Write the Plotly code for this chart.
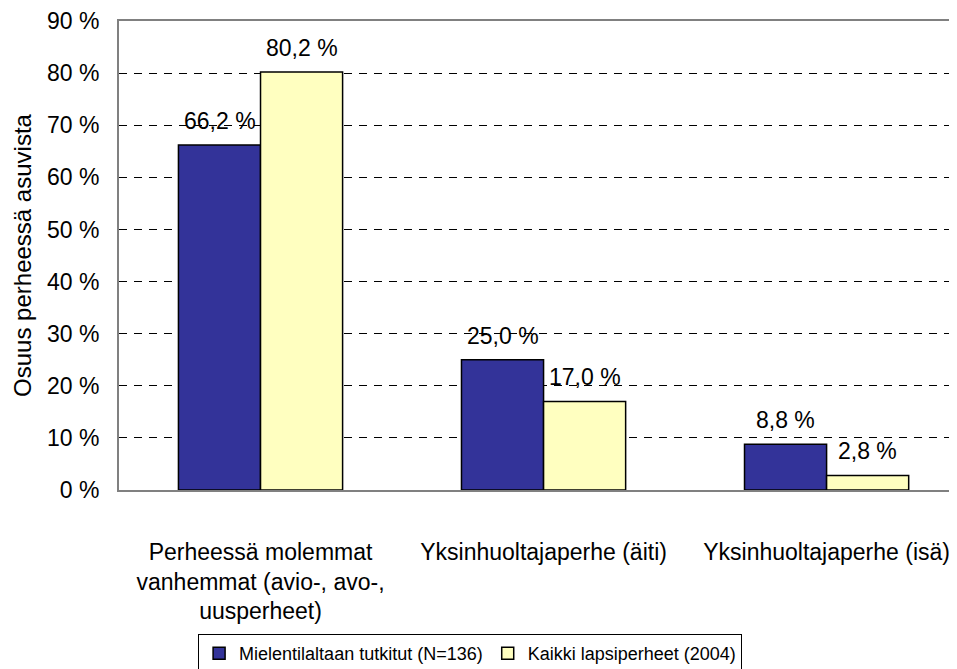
import plotly.graph_objects as go

categories = ["Perheessä molemmat<br>vanhemmat (avio-, avo-,<br>uusperheet)",
              "Yksinhuoltajaperhe (äiti)",
              "Yksinhuoltajaperhe (isä)"]
series_names = ["Mielentilaltaan tutkitut (N=136)", "Kaikki lapsiperheet (2004)"]
tutkitut = [66.2, 25.0, 8.8]
kaikki = [80.2, 17.0, 2.8]
y_ticks = [0, 10, 20, 30, 40, 50, 60, 70, 80, 90]
y_ticklabels = [f"{v} %" for v in y_ticks]

colors = ["#333399", "#FFFFC0"]
FONT = "Liberation Sans, Arial, sans-serif"
FS = 23

fig = go.Figure()
for name, vals, col in zip(series_names, [tutkitut, kaikki], colors):
    fig.add_trace(go.Bar(x=categories, y=vals, name=name,
                         marker=dict(color=col, line=dict(color="black", width=1.5))))

def fmt(v):
    return f"{v:.1f} %".replace(".", ",")

annotations = []
for vals, shift in [(tutkitut, -41), (kaikki, 41)]:
    for c, v in zip(categories, vals):
        annotations.append(dict(x=c, y=v, text=fmt(v), showarrow=False,
                                xshift=shift, yshift=24, yanchor="middle",
                                font=dict(family=FONT, size=FS, color="black")))

fig.update_layout(
    width=957, height=669,
    margin=dict(l=111, r=0, t=13, b=187),
    paper_bgcolor="white", plot_bgcolor="white",
    font=dict(family=FONT, size=FS, color="black"),
    barmode="group", bargap=0.42, bargroupgap=0,
    annotations=annotations,
    showlegend=True,
    legend=dict(orientation="h", x=0.415, xanchor="center", y=-0.307, yanchor="top",
                bordercolor="black", borderwidth=1, bgcolor="white",
                font=dict(family=FONT, size=18, color="black"),
                itemwidth=30, tracegroupgap=0),
    xaxis=dict(range=[-0.5, 2.489], showline=True, linecolor="#808080", linewidth=2,
               mirror=True, showgrid=False, ticks="", ticklabelstandoff=40,
               tickfont=dict(family=FONT, size=FS, color="black")),
    yaxis=dict(range=[0, 90], tickvals=y_ticks, ticktext=y_ticklabels,
               showline=True, linecolor="#808080", linewidth=2,
               showgrid=True, gridcolor="black", gridwidth=1, griddash="8px,7px",
               zeroline=False, ticks="", ticklabelstandoff=13,
               title=dict(text="Osuus perheessä asuvista", standoff=9,
                          font=dict(family=FONT, size=24, color="black")),
               tickfont=dict(family=FONT, size=FS, color="black")),
)

fig.write_html("out.html")
